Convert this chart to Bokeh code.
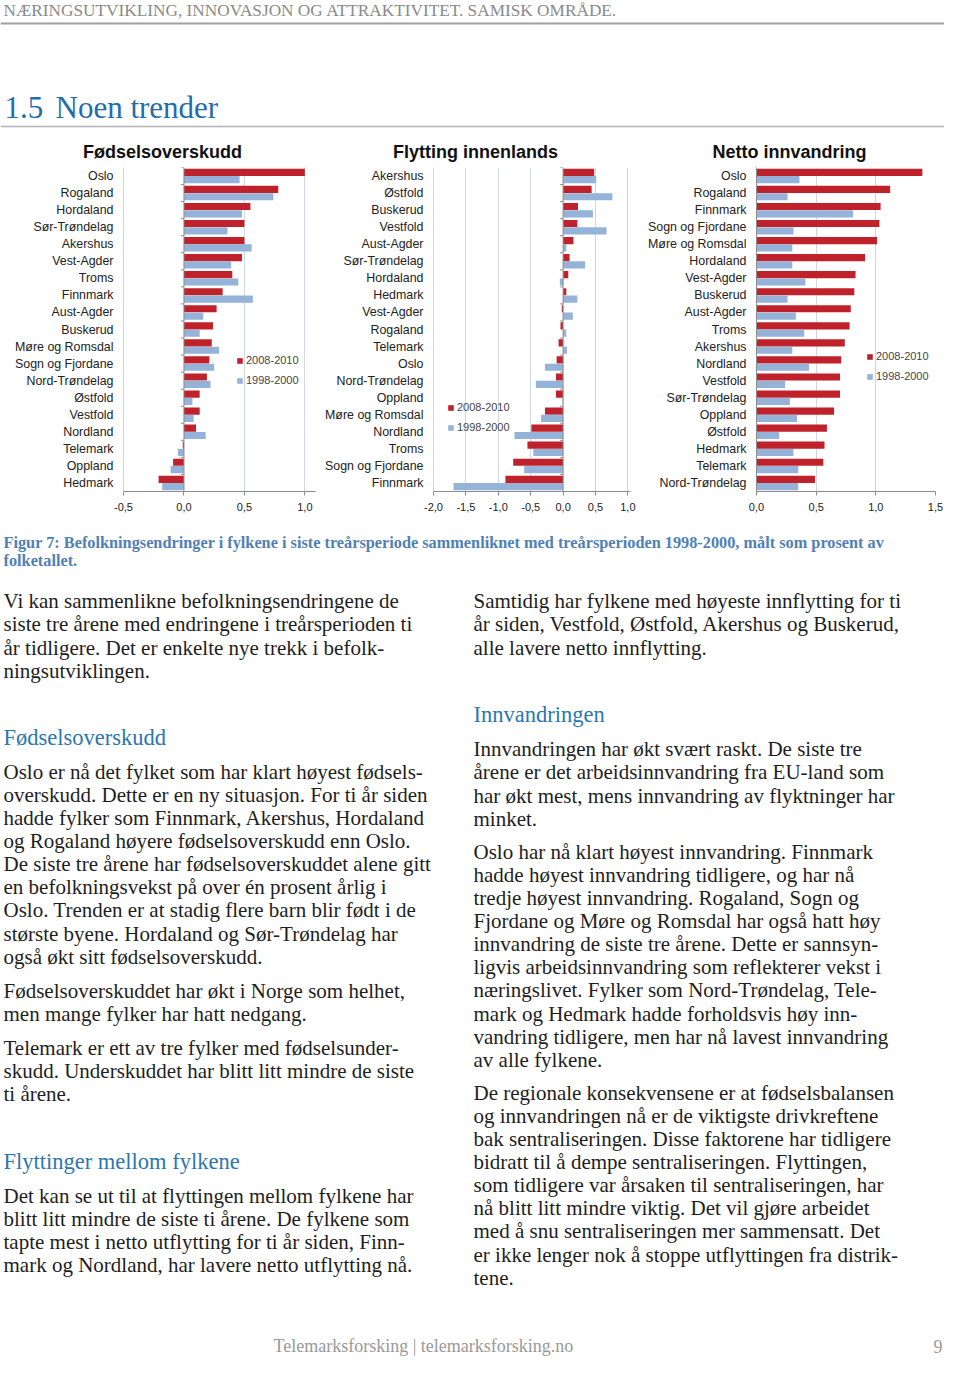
from bokeh.plotting import figure
from bokeh.models import Range1d, FactorRange, ColumnDataSource, FixedTicker, CustomJSTickFormatter, Span
from bokeh.transform import dodge
from bokeh.layouts import column, row
from bokeh.core.properties import value
from bokeh.embed import file_html
from bokeh.resources import INLINE

# ---------------- data ----------------
series_labels = ["2008-2010", "1998-2000"]

fod_cats = ["Oslo", "Rogaland", "Hordaland", "Sør-Trøndelag", "Akershus", "Vest-Agder", "Troms",
            "Finnmark", "Aust-Agder", "Buskerud", "Møre og Romsdal", "Sogn og Fjordane",
            "Nord-Trøndelag", "Østfold", "Vestfold", "Nordland", "Telemark", "Oppland", "Hedmark"]
fod_2010 = [1.00, 0.78, 0.55, 0.50, 0.50, 0.48, 0.40, 0.32, 0.27, 0.24, 0.23, 0.21, 0.19,
            0.13, 0.13, 0.10, -0.01, -0.09, -0.21]
fod_2000 = [0.46, 0.74, 0.48, 0.36, 0.56, 0.39, 0.45, 0.57, 0.16, 0.13, 0.29, 0.25, 0.22,
            0.07, 0.08, 0.18, -0.05, -0.11, -0.18]
fod_ticks = [-0.5, 0.0, 0.5, 1.0]

fly_cats = ["Akershus", "Østfold", "Buskerud", "Vestfold", "Aust-Agder", "Sør-Trøndelag",
            "Hordaland", "Hedmark", "Vest-Agder", "Rogaland", "Telemark", "Oslo",
            "Nord-Trøndelag", "Oppland", "Møre og Romsdal", "Nordland", "Troms",
            "Sogn og Fjordane", "Finnmark"]
fly_2010 = [0.48, 0.44, 0.23, 0.22, 0.16, 0.10, 0.08, 0.05, -0.02, -0.04, -0.07, -0.10,
            -0.11, -0.11, -0.28, -0.49, -0.55, -0.77, -0.89]
fly_2000 = [0.51, 0.76, 0.46, 0.67, 0.05, 0.34, -0.05, 0.22, 0.15, 0.05, 0.06, -0.28,
            -0.42, -0.01, -0.34, -0.75, -0.46, -0.60, -1.69]
fly_ticks = [-2.0, -1.5, -1.0, -0.5, 0.0, 0.5, 1.0]

inn_cats = ["Oslo", "Rogaland", "Finnmark", "Sogn og Fjordane", "Møre og Romsdal", "Hordaland",
            "Vest-Agder", "Buskerud", "Aust-Agder", "Troms", "Akershus", "Nordland", "Vestfold",
            "Sør-Trøndelag", "Oppland", "Østfold", "Hedmark", "Telemark", "Nord-Trøndelag"]
inn_2010 = [1.39, 1.12, 1.04, 1.03, 1.01, 0.91, 0.83, 0.82, 0.79, 0.78, 0.74, 0.71, 0.70,
            0.70, 0.65, 0.59, 0.57, 0.56, 0.49]
inn_2000 = [0.36, 0.26, 0.81, 0.31, 0.30, 0.30, 0.41, 0.26, 0.33, 0.40, 0.30, 0.44, 0.24,
            0.28, 0.34, 0.19, 0.31, 0.35, 0.35]
inn_ticks = [0.0, 0.5, 1.0, 1.5]

chart_titles = ["Fødselsoverskudd", "Flytting innenlands", "Netto innvandring"]

header_text = "NÆRINGSUTVIKLING, INNOVASJON OG ATTRAKTIVITET. SAMISK OMRÅDE."
section_no = "1.5"
section_title = "Noen trender"
caption_lines = [
    "Figur 7: Befolkningsendringer i fylkene i siste treårsperiode sammenliknet med treårsperioden 1998-2000, målt som prosent av",
    "folketallet.",
]
left_blocks = [
    ("p", 608, ["Vi kan sammenlikne befolkningsendringene de",
                "siste tre årene med endringene i treårsperioden ti",
                "år tidligere. Det er enkelte nye trekk i befolk-",
                "ningsutviklingen."]),
    ("h", 745, ["Fødselsoverskudd"]),
    ("p", 778.5, ["Oslo er nå det fylket som har klart høyest fødsels-",
                  "overskudd. Dette er en ny situasjon. For ti år siden",
                  "hadde fylker som Finnmark, Akershus, Hordaland",
                  "og Rogaland høyere fødselsoverskudd enn Oslo.",
                  "De siste tre årene har fødselsoverskuddet alene gitt",
                  "en befolkningsvekst på over én prosent årlig i",
                  "Oslo. Trenden er at stadig flere barn blir født i de",
                  "største byene. Hordaland og Sør-Trøndelag har",
                  "også økt sitt fødselsoverskudd."]),
    ("p", 997.5, ["Fødselsoverskuddet har økt i Norge som helhet,",
                  "men mange fylker har hatt nedgang."]),
    ("p", 1054.5, ["Telemark er ett av tre fylker med fødselsunder-",
                   "skudd. Underskuddet har blitt litt mindre de siste",
                   "ti årene."]),
    ("h", 1169, ["Flyttinger mellom fylkene"]),
    ("p", 1202.5, ["Det kan se ut til at flyttingen mellom fylkene har",
                   "blitt litt mindre de siste ti årene. De fylkene som",
                   "tapte mest i netto utflytting for ti år siden, Finn-",
                   "mark og Nordland, har lavere netto utflytting nå."]),
]
right_blocks = [
    ("p", 608, ["Samtidig har fylkene med høyeste innflytting for ti",
                "år siden, Vestfold, Østfold, Akershus og Buskerud,",
                "alle lavere netto innflytting."]),
    ("h", 722, ["Innvandringen"]),
    ("p", 756, ["Innvandringen har økt svært raskt. De siste tre",
                "årene er det arbeidsinnvandring fra EU-land som",
                "har økt mest, mens innvandring av flyktninger har",
                "minket."]),
    ("p", 858.5, ["Oslo har nå klart høyest innvandring. Finnmark",
                  "hadde høyest innvandring tidligere, og har nå",
                  "tredje høyest innvandring. Rogaland, Sogn og",
                  "Fjordane og Møre og Romsdal har også hatt høy",
                  "innvandring de siste tre årene. Dette er sannsyn-",
                  "ligvis arbeidsinnvandring som reflekterer vekst i",
                  "næringslivet. Fylker som Nord-Trøndelag, Tele-",
                  "mark og Hedmark hadde forholdsvis høy inn-",
                  "vandring tidligere, men har nå lavest innvandring",
                  "av alle fylkene."]),
    ("p", 1099.5, ["De regionale konsekvensene er at fødselsbalansen",
                   "og innvandringen nå er de viktigste drivkreftene",
                   "bak sentraliseringen.  Disse faktorene har tidligere",
                   "bidratt til å dempe sentraliseringen. Flyttingen,",
                   "som tidligere var årsaken til sentraliseringen, har",
                   "nå blitt litt mindre viktig. Det vil gjøre arbeidet",
                   "med å snu sentraliseringen mer sammensatt. Det",
                   "er ikke lenger nok å stoppe utflyttingen fra distrik-",
                   "tene."]),
]
footer_text = "Telemarksforsking  |  telemarksforsking.no"
page_no = "9"

# ---------------- style ----------------
RED = "#c0222b"
BLUE = "#95b3d9"
GRID = "#cdd8e4"
AXIS = "#8c8c8c"
HEAD_BLUE = "#2b77ae"
TITLE_BLUE = "#1f6dab"
CAP_BLUE = "#5180b6"
SERIF = "Liberation Serif"
SANS = "Liberation Sans"
TEXT = "#1e1e1e"
PITCH = 23.1
MID = 0.34      # distance from alphabetic baseline to the em-box middle, in em

W = 944
TOP_H = 166     # reference y 0..166
ROW_H = 354     # reference y 166..520
BOT_H = 1357 - TOP_H - ROW_H


def text_fig(w, h):
    p = figure(width=w, height=h, x_range=Range1d(0, w), y_range=Range1d(h, 0),
               x_axis_type=None, y_axis_type=None, output_backend="svg",
               toolbar_location=None, min_border=0)
    p.grid.visible = False
    p.outline_line_color = None
    return p


def put(p, x, base, txt, size, color=TEXT, font=SERIF, style="normal", align="left"):
    """place text so that its alphabetic baseline sits at `base`"""
    p.text(x=[x], y=[base - MID * size], text=[txt], text_font=value(font),
           text_font_size=value(f"{size}px"), text_color=color, text_font_style=style,
           text_align=align, text_baseline="middle")


# ---------- top block ----------
top = text_fig(W, TOP_H)
put(top, 3, 16, header_text, 17.25, color="#8a8a8a")
top.segment(x0=[0], y0=[23], x1=[W], y1=[23], line_color="#9e9e9e", line_width=2)
put(top, 4, 118, section_no, 31, color=TITLE_BLUE)
put(top, 55, 118, section_title, 31, color=TITLE_BLUE)
top.segment(x0=[0], y0=[126], x1=[W], y1=[126], line_color="#b4b4b4", line_width=1.5)
for cx, t in zip([162, 475, 789], chart_titles):
    put(top, cx, 157.2, t, 18, color="#111111", font=SANS, style="bold", align="center")


# ---------- charts ----------
def bar_chart(cats, red, blue, xr, ticks, w, bl, br, leg, grid_ticks, left_axis_color, tick_len):
    p = figure(width=w, height=ROW_H, y_range=FactorRange(*cats[::-1]), x_range=Range1d(*xr),
               output_backend="svg", toolbar_location=None,
               min_border_left=bl, min_border_right=br, min_border_top=1, min_border_bottom=29)
    src = ColumnDataSource(dict(cat=cats, red=red, blue=blue))
    p.hbar(y=dodge("cat", 0.215, range=p.y_range), left=0, right="red", height=0.42,
           fill_color=RED, line_color=None, source=src, legend_label=series_labels[0])
    p.hbar(y=dodge("cat", -0.215, range=p.y_range), left=0, right="blue", height=0.42,
           fill_color=BLUE, line_color=None, source=src, legend_label=series_labels[1])
    # small category tick marks on the zero axis
    bounds = [(c, 0.5) for c in cats] + [(cats[-1], -0.5)]
    p.segment(x0=[-tick_len] * len(bounds), x1=[0] * len(bounds), y0=bounds, y1=bounds,
              line_color=AXIS, line_width=1)
    p.outline_line_color = None
    p.ygrid.visible = False
    p.xgrid.ticker = FixedTicker(ticks=grid_ticks)
    p.xgrid.grid_line_color = GRID
    p.xaxis.ticker = FixedTicker(ticks=ticks)
    p.xaxis.formatter = CustomJSTickFormatter(code="return tick.toFixed(1).replace('.', ',');")
    p.xaxis.axis_line_color = AXIS
    p.xaxis.major_tick_line_color = AXIS
    p.xaxis.major_tick_out = 4
    p.xaxis.major_tick_in = 0
    p.xaxis.minor_tick_line_color = None
    p.xaxis.major_label_text_font = SANS
    p.xaxis.major_label_text_font_size = "11px"
    p.xaxis.major_label_text_color = "#222222"
    p.xaxis.major_label_standoff = 7
    p.yaxis.axis_line_color = left_axis_color
    p.yaxis.major_tick_line_color = None
    p.yaxis.minor_tick_line_color = None
    p.yaxis.major_tick_out = 0
    p.yaxis.major_tick_in = 0
    p.yaxis.major_label_standoff = 10
    p.yaxis.major_label_text_font = SANS
    p.yaxis.major_label_text_font_size = "12.4px"
    p.yaxis.major_label_text_color = "#222222"
    if xr[0] < 0:
        p.add_layout(Span(location=0, dimension="height", line_color=AXIS, line_width=1))
    p.legend.location = leg
    p.legend.label_text_font = SANS
    p.legend.label_text_font_size = "11px"
    p.legend.glyph_width = 7
    p.legend.glyph_height = 7
    p.legend.label_standoff = 3
    p.legend.label_height = 20
    p.legend.spacing = 0
    p.legend.padding = 0
    p.legend.margin = 0
    p.legend.border_line_color = None
    p.legend.background_fill_alpha = 0
    return p


c1 = bar_chart(fod_cats, fod_2010, fod_2000, (-0.5, 1.088), fod_ticks, 320, 123, 5,
               (113, 101), [-0.5, 0.5, 1.0], GRID, 0.025)
c2 = bar_chart(fly_cats, fly_2010, fly_2000, (-2.0, 1.04), fly_ticks, 320, 113, 10,
               (14, 54), [-2.0, -1.5, -1.0, -0.5, 0.5, 1.0], GRID, 0.046)
c3 = bar_chart(inn_cats, inn_2010, inn_2000, (0.0, 1.5), inn_ticks, W - 640, 116, 9,
               (110, 105), [0.5, 1.0, 1.5], AXIS, 0.025)

# ---------- bottom block ----------
bot = text_fig(W, BOT_H)
oy = 520
put(bot, 3, 547.5 - oy, caption_lines[0], 16.3, color=CAP_BLUE, style="bold")
put(bot, 3, 565.5 - oy, caption_lines[1], 16.3, color=CAP_BLUE, style="bold")


def blocks(p, bx, blist):
    for kind, y0, lines in blist:
        for i, ln in enumerate(lines):
            if kind == "h":
                put(p, bx, y0 - oy, ln, 22.5, color=HEAD_BLUE)
            else:
                put(p, bx, y0 + i * PITCH - oy, ln, 21)


blocks(bot, 3, left_blocks)
blocks(bot, 473, right_blocks)
put(bot, 273, 1352 - oy, footer_text, 18, color="#999999")
put(bot, 942, 1352 - oy, page_no, 18, color="#999999", align="right")

layout = column(top, row(c1, c2, c3), bot)
open("out.html", "w").write(file_html(layout, INLINE))
